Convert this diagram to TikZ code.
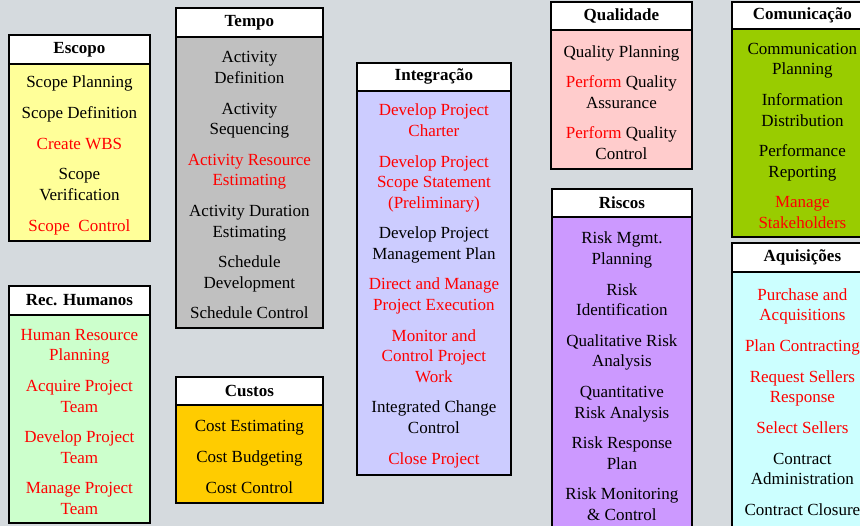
\documentclass[tikz,border=0pt]{standalone}
\usepackage{fontspec}
\setmainfont{Liberation Serif}
\definecolor{bgc}{HTML}{D5DADE}
\definecolor{cEsc}{HTML}{FFFF99}
\definecolor{cTem}{HTML}{C0C0C0}
\definecolor{cRH}{HTML}{CCFFCC}
\definecolor{cCus}{HTML}{FFCC00}
\definecolor{cInt}{HTML}{CCCCFF}
\definecolor{cQua}{HTML}{FFCCCC}
\definecolor{cRis}{HTML}{CC99FF}
\definecolor{cCom}{HTML}{99CC00}
\definecolor{cAqu}{HTML}{CCFFFF}
\definecolor{txtred}{HTML}{FF0000}
\newcommand\redt[1]{\textcolor{txtred}{#1}}
\newcommand\gp{\\[10.2pt]}
\newcommand\tshift{3pt}
\tikzset{
  boxtitle/.style={draw=black, line width=1.8pt, fill=white, inner sep=0pt,
    anchor=north west, font=\bfseries\fontsize{17}{19}\selectfont},
  boxbody/.style={draw=black, line width=1.8pt, inner sep=0pt, anchor=north west},
  boxtext/.style={align=center, inner sep=0pt, font=\fontsize{17}{20.5}\selectfont},
}
% #1 name, #2 x1, #3 y top, #4 y title bottom, #5 x2, #6 y bottom, #7 colour, #8 title, #9 body
\newcommand\pmbox[9]{%
  \node[boxbody, fill=#7, minimum width={(#5-#2)*1pt}, minimum height={(#6-#4)*1pt}]
    (#1-b) at (#2,#4) {};
  \node[boxtext] (#1-x) at ([yshift=-\tshift]#1-b.center) {#9};
  \node[boxtitle, minimum width={(#5-#2)*1pt}, minimum height={(#4-#3)*1pt}]
    (#1-t) at (#2,#3) {#8};
}
\begin{document}
\begin{tikzpicture}[x=1pt,y=-1pt]
\useasboundingbox (0,0) rectangle (860,526);
\clip (0,0) rectangle (860,526);
\fill[bgc] (0,0) rectangle (860,526);

\pmbox{esc}{8}{34}{63}{149}{240}{cEsc}{Escopo}{%
  Scope Planning\gp Scope Definition\gp \redt{Create WBS}\gp Scope\\ Verification\gp \redt{Scope\ \ Control}}

\pmbox{tem}{175}{7}{36}{322}{327}{cTem}{Tempo}{%
  Activity\\ Definition\gp Activity\\ Sequencing\gp \redt{Activity Resource}\\ \redt{Estimating}\gp
  Activity Duration\\ Estimating\gp Schedule\\ Development\gp Schedule Control}

\pmbox{rh}{8}{285}{314}{149}{522}{cRH}{Rec. Humanos}{%
  \redt{Human Resource}\\ \redt{Planning}\gp \redt{Acquire Project}\\ \redt{Team}\gp
  \redt{Develop Project}\\ \redt{Team}\gp \redt{Manage Project}\\ \redt{Team}}

\pmbox{cus}{175}{376}{404}{322}{502}{cCus}{Custos}{%
  Cost Estimating\gp Cost Budgeting\gp Cost Control}

\pmbox{int}{356}{62}{90}{510}{474}{cInt}{Integração}{%
  \redt{Develop Project}\\ \redt{Charter}\gp
  \redt{Develop Project}\\ \redt{Scope Statement}\\ \redt{(Preliminary)}\gp
  Develop Project\\ Management Plan\gp
  \redt{Direct and Manage}\\ \redt{Project Execution}\gp
  \redt{Monitor and}\\ \redt{Control Project}\\ \redt{Work}\gp
  Integrated Change\\ Control\gp \redt{Close Project}}

\pmbox{qua}{550}{1}{29}{691}{168}{cQua}{Qualidade}{%
  Quality Planning\gp \redt{Perform} Quality\\ Assurance\gp \redt{Perform} Quality\\ Control}

\pmbox{com}{731}{1}{28}{872}{236}{cCom}{Comunicação}{%
  Communication\\ Planning\gp Information\\ Distribution\gp Performance\\ Reporting\gp
  \redt{Manage}\\ \redt{Stakeholders}}

\renewcommand\tshift{0pt}
\pmbox{ris}{551}{188}{216}{691}{535}{cRis}{Riscos}{%
  Risk Mgmt.\\ Planning\gp Risk\\ Identification\gp Qualitative Risk\\ Analysis\gp
  Quantitative\\ Risk Analysis\gp Risk Response\\ Plan\gp Risk Monitoring\\ \& Control}

\pmbox{aqu}{731}{242}{271}{872}{531}{cAqu}{Aquisições}{%
  \redt{Purchase and}\\ \redt{Acquisitions}\gp \redt{Plan Contracting}\gp
  \redt{Request Sellers}\\ \redt{Response}\gp \redt{Select Sellers}\gp
  Contract\\ Administration\gp Contract Closure}
\end{tikzpicture}
\end{document}
